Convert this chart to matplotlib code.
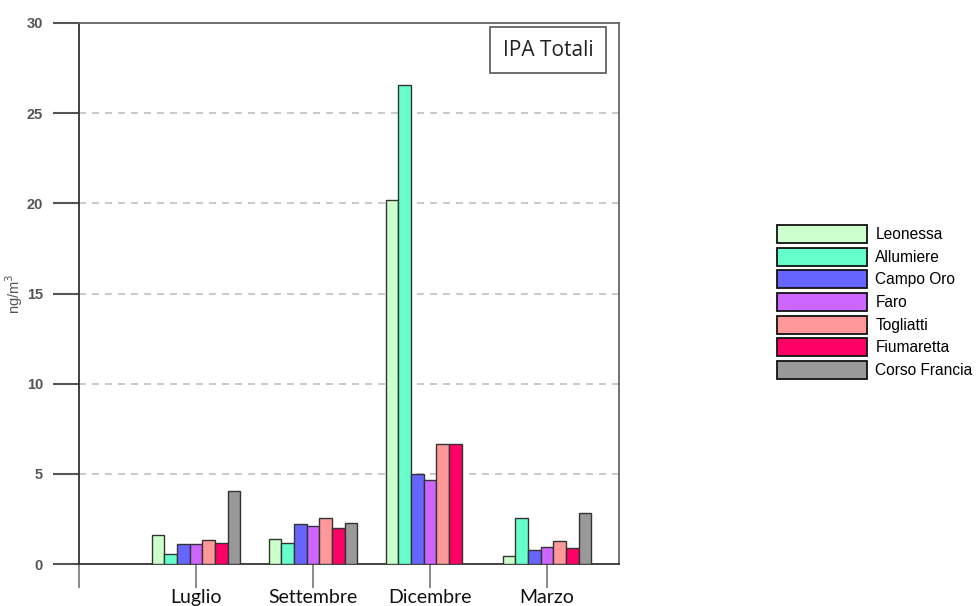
import matplotlib
matplotlib.use("Agg")
import matplotlib.pyplot as plt
import numpy as np

months = ["Luglio", "Settembre", "Dicembre", "Marzo"]
stations = ["Leonessa", "Allumiere", "Campo Oro", "Faro", "Togliatti", "Fiumaretta", "Corso Francia"]
colors = ["#CCFFCC", "#66FFCC", "#6666FF", "#CC66FF", "#FF9999", "#FF0066", "#999999"]
leonessa = [1.62, 1.40, 20.2, 0.46]
allumiere = [0.55, 1.18, 26.55, 2.55]
campo_oro = [1.09, 2.22, 5.0, 0.80]
faro = [1.13, 2.11, 4.68, 0.94]
togliatti = [1.35, 2.55, 6.66, 1.29]
fiumaretta = [1.16, 1.98, 6.66, 0.89]
corso_francia = [4.03, 2.29, np.nan, 2.81]
series = [leonessa, allumiere, campo_oro, faro, togliatti, fiumaretta, corso_francia]

fig = plt.figure(figsize=(9.76, 6.06), dpi=100)
ax = fig.add_axes([79/976, 1-564/606, (619-79)/976, (564-23)/606])

x = np.arange(1, len(months)+1)
w = 0.108
n = len(stations)
for i, (name, vals, c) in enumerate(zip(stations, series, colors)):
    offs = (i - (n-1)/2) * w
    ax.bar(x + offs, vals, width=w, color=c, edgecolor="#333333", linewidth=1.0, label=name, zorder=3)

ax.set_xlim(0, 4.615)
ax.set_ylim(0, 30)
ax.set_yticks([0, 5, 10, 15, 20, 25, 30])
ax.set_yticklabels(["0", "5", "10", "15", "20", "25", "30"], fontsize=10.5, color="#555555",
                   fontweight="bold", family="Liberation Sans")
for yv in [5, 10, 15, 20, 25]:
    ax.axhline(yv, color="#c0c0c0", linestyle=(0, (4.2, 3.6)), linewidth=1.2, zorder=1)

ax.set_xticks([0, 1, 2, 3, 4])
ax.set_xticklabels([""] + months, fontsize=14, family="Lato", color="#111111")
ax.tick_params(axis="y", direction="out", length=19, width=1.5, color="#555555", pad=7)
ax.tick_params(axis="x", direction="out", length=17, width=1.2, color="#777777", pad=1)

for s in ["left", "bottom"]:
    ax.spines[s].set_color("#333333")
    ax.spines[s].set_linewidth(1.3)
for s in ["top", "right"]:
    ax.spines[s].set_color("#666666")
    ax.spines[s].set_linewidth(1.3)

ax.set_ylabel("ng/m$^3$", fontsize=10.5, color="#555555", family="Liberation Sans")
ax.yaxis.set_label_coords(-0.1, 0.5)

ax.text(0.869, 0.95, "IPA Totali", transform=ax.transAxes, ha="center", va="center",
        fontsize=15, family="Open Sans", color="#222222",
        bbox=dict(boxstyle="square,pad=0.6", facecolor="white", edgecolor="#555555", linewidth=1.2))

leg = fig.legend(loc="upper left", bbox_to_anchor=(777/976, 1-225/606), frameon=False,
                 prop={"family": "Liberation Sans", "size": 11.2},
                 handlelength=5.78, handleheight=1.4, labelspacing=0.3, handletextpad=0.55,
                 borderpad=0, borderaxespad=0)
for h in leg.legend_handles:
    h.set_edgecolor("#111111")
    h.set_linewidth(1.3)

fig.savefig("out.png", dpi=100)
